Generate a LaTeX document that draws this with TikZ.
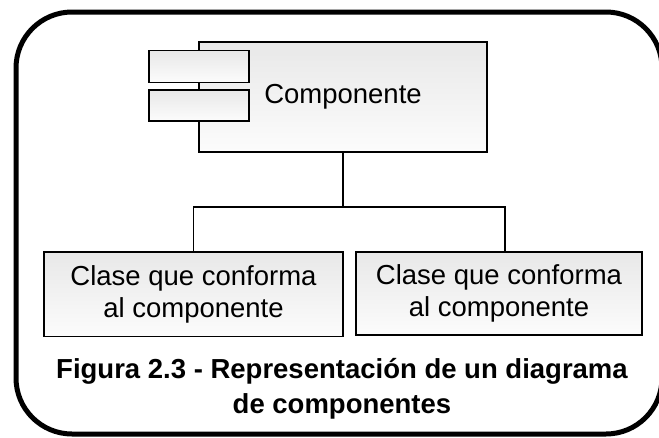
\documentclass[tikz,border=0pt]{standalone}
\usepackage{fontspec}
\setmainfont{Liberation Sans}
\usetikzlibrary{positioning}
\definecolor{boxtop}{RGB}{232,232,232}
\definecolor{boxbot}{RGB}{252,252,252}
\newcommand*{\boxtextstyle}{\fontsize{27.5}{32.3}\selectfont}
\newcommand*{\captextstyle}{\bfseries\fontsize{27.5}{34.5}\selectfont}
\tikzset{
	umlbox/.style = {
		draw, line width=1.8pt, inner sep=0pt,
		top color=boxtop, bottom color=boxbot,
		align=center, font=\boxtextstyle
	},
	portbox/.style = {umlbox, minimum width=100pt, minimum height=32pt},
	wire/.style = {line width=1.8pt}
}

\begin{document}
\begin{tikzpicture}[x=1pt,y=1pt]
	\useasboundingbox (0,0) rectangle (659,-437);
	% outer frame
	\draw[line width=5pt, rounded corners=56pt] (16,-12) rectangle (662,-434);
	% component
	\node[umlbox, minimum width=288pt, minimum height=110pt] (comp) at (343,-96.7) {Componente};
	\node[portbox] (portA) at (199,-66.4) {};
	\node[portbox, minimum height=30.7pt] (portB) at (199,-105.4) {};
	% classes
	\node[umlbox, minimum width=299pt, minimum height=84.5pt] (clsA) at (193.5,-294.2)
	{Clase que conforma\\al componente};
	\node[umlbox, minimum width=286pt, minimum height=83pt] (clsB) at (499,-293.6)
	{Clase que conforma\\al componente};
	\coordinate (busL) at (193.5,-207.3);
	\coordinate (busR) at (505.3,-207.3);
	\draw[wire] (comp.south) -- (comp.south |- busL);
	\draw[wire] (clsA.north) -- (busL) -- (busR) -- (busR |- clsB.north);
	% caption
	\node[align=center, font=\captextstyle] (cap) at (342,-389)
	{Figura 2.3 - Representación de un diagrama\\de componentes};
\end{tikzpicture}
\end{document}
